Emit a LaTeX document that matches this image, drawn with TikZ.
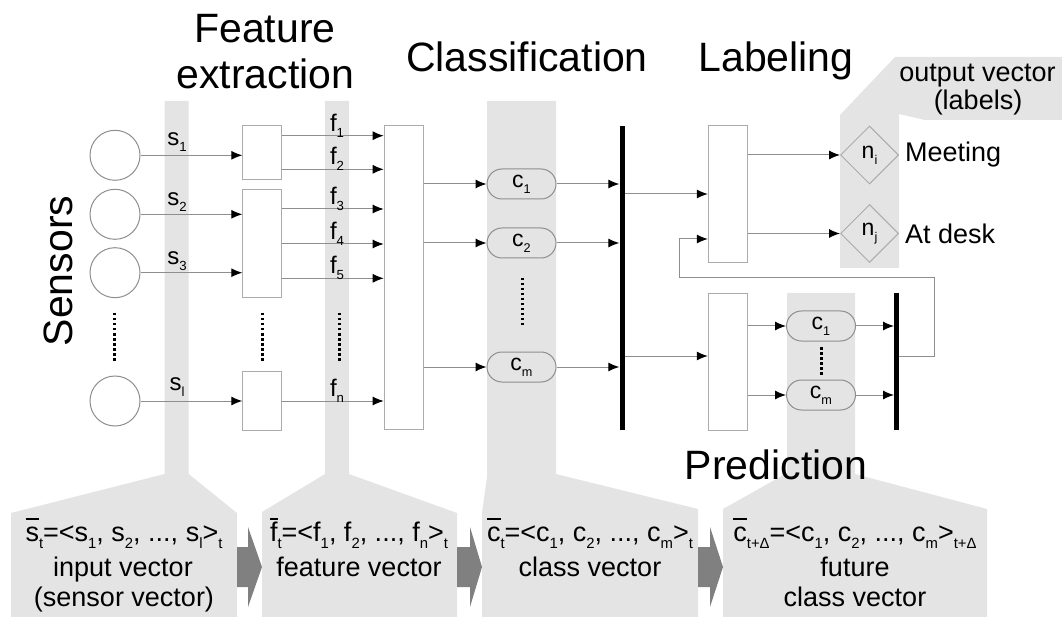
\documentclass[tikz,border=0pt]{standalone}
\usepackage{fontspec}
\setmainfont{Liberation Sans}
\usetikzlibrary{arrows.meta,shapes.geometric,shapes.misc}

\definecolor{band}{HTML}{E4E4E4}
\definecolor{wire}{HTML}{8E8E8E}
\definecolor{frame}{HTML}{ABABAB}
\definecolor{bigarrow}{HTML}{808080}

% small lowered index, as in s_1
\newcommand\subix[1]{\raisebox{-0.25em}{\scalebox{0.55}{#1}}}
% letter with a bar on top, as in a vector name
\newcommand\barred[1]{\leavevmode\setbox0\hbox{#1}\rlap{\raisebox{0.8em}{\rule{\wd0}{0.06em}}}\box0}

\begin{document}
\begin{tikzpicture}[x=1pt,y=-1pt,
  sensor/.style={circle, draw=wire, line width=1pt, minimum size=50pt, inner sep=0pt, fill=white},
  procbox/.style={rectangle, draw=frame, line width=1pt, fill=white, inner sep=0pt},
  pill/.style={rounded rectangle, draw=wire, fill=band, line width=1pt, minimum width=69pt,
               minimum height=30pt, inner sep=0pt, font=\fontsize{23}{23}\selectfont},
  dia/.style={diamond, draw=frame, fill=band, line width=1pt, minimum width=58pt,
              minimum height=58pt, inner sep=0pt, font=\fontsize{23}{23}\selectfont},
  bar/.style={rectangle, fill=black, minimum width=5pt, inner sep=0pt},
  arr/.style={draw=wire, line width=1pt, -{Latex[length=11pt,width=9pt,color=black]}},
  lbl/.style={font=\fontsize{24}{24}\selectfont, inner sep=0pt, anchor=base},
  title/.style={font=\fontsize{41}{41}\selectfont, inner sep=0pt, anchor=base},
  txt/.style={font=\fontsize{27}{27}\selectfont, inner sep=0pt, anchor=base},
  dotcol/.style={line width=3pt, dash pattern=on 2.5pt off 2.5pt},
  fat/.style={fill=bigarrow}]

\useasboundingbox (0,0) rectangle (1062,617);

% ---- grey vector bands with their caption boxes
\fill[band] (164.5,101) -- (188.7,101) -- (188.7,474) -- (237,513) -- (237,617)
  -- (11,617) -- (11,513) -- (164.5,474) -- cycle;
\fill[band] (325,101) -- (349,101) -- (349,474) -- (457,513) -- (457,617)
  -- (262,617) -- (262,512) -- (325,474) -- cycle;
\fill[band] (487,101) -- (556,101) -- (556,474) -- (698,509) -- (698,617)
  -- (482,617) -- (482,513) -- (487,477) -- cycle;
\fill[band] (787,293) -- (855,293) -- (855,474) -- (987,509) -- (987,617)
  -- (723,617) -- (723,509) -- (787,473) -- cycle;
\fill[band] (840,268) -- (840,115) -- (895,57) -- (1062,57) -- (1062,120)
  -- (925,120) -- (899,114) -- (899,268) -- cycle;

% ---- block arrows between the caption boxes
\fill[fat] (237,547) -- (248,547) -- (248,527) -- (262,567) -- (248,607) -- (248,587) -- (237,587) -- cycle;
\fill[fat] (457,547) -- (470,547) -- (470,527) -- (482,567) -- (470,607) -- (470,587) -- (457,587) -- cycle;
\fill[fat] (698,547) -- (710,547) -- (710,527) -- (723,567) -- (710,607) -- (710,587) -- (698,587) -- cycle;

% ---- sensors
\node[sensor] (s1) at (115,155.3) {};
\node[sensor] (s2) at (115,214.3) {};
\node[sensor] (s3) at (115,272.7) {};
\node[sensor] (sl) at (115,401) {};

% ---- feature extraction boxes
\node[procbox, minimum width=39pt, minimum height=54pt]  (fe1) at (262.3,152.9) {};
\node[procbox, minimum width=39pt, minimum height=108pt] (fe2) at (262.3,243.3) {};
\node[procbox, minimum width=39pt, minimum height=59pt]  (fe3) at (262.3,401.2) {};

% ---- classification box, classes and collecting bar
\node[procbox, minimum width=39pt, minimum height=304pt] (cl) at (403.7,277.9) {};
\node[pill] (c1) at (521.5,184) {c\subix{1}};
\node[pill] (c2) at (521.5,243) {c\subix{2}};
\node[pill] (cm) at (521.5,367) {c\subix{m}};
\node[bar, minimum height=304pt] (bar1) at (622,278) {};

% ---- labeling
\node[procbox, minimum width=39pt, minimum height=136.6pt] (lab) at (727.8,194) {};
\node[dia] (ni) at (869.5,155) {n\subix{i}};
\node[dia] (nj) at (869.5,233.5) {n\subix{j}};

% ---- prediction
\node[procbox, minimum width=39pt, minimum height=136.7pt] (pre) at (727.8,361.7) {};
\node[pill] (p1) at (821,326) {c\subix{1}};
\node[pill] (pm) at (821,395) {c\subix{m}};
\node[bar, minimum height=137pt] (bar2) at (896.7,361.3) {};

% ---- levels of the connectors
\coordinate (yf1) at (0,135.7);
\coordinate (yf2) at (0,169.3);
\coordinate (yf3) at (0,209);
\coordinate (yf4) at (0,244);
\coordinate (yf5) at (0,278.3);
\coordinate (yfn) at (0,401);
\coordinate (ylb) at (0,194);
\coordinate (ypr) at (0,356);
\coordinate (yfb) at (0,239);
\coordinate (fbA) at (934,356);
\coordinate (fbB) at (679,278);

% sensors to feature extraction
\draw[arr] (s1.east) -- (s1.east -| fe1.west);
\draw[arr] (s2.east) -- (s2.east -| fe2.west);
\draw[arr] (s3.east) -- (s3.east -| fe2.west);
\draw[arr] (sl.east) -- (sl.east -| fe3.west);

% features to classification
\draw[arr] (fe1.east |- yf1) -- (cl.west |- yf1);
\draw[arr] (fe1.east |- yf2) -- (cl.west |- yf2);
\draw[arr] (fe2.east |- yf3) -- (cl.west |- yf3);
\draw[arr] (fe2.east |- yf4) -- (cl.west |- yf4);
\draw[arr] (fe2.east |- yf5) -- (cl.west |- yf5);
\draw[arr] (fe3.east |- yfn) -- (cl.west |- yfn);

% classification to classes to bar
\draw[arr] (cl.east |- c1) -- (c1.west);
\draw[arr] (cl.east |- c2) -- (c2.west);
\draw[arr] (cl.east |- cm) -- (cm.west);
\draw[arr] (c1.east) -- (c1 -| bar1.west);
\draw[arr] (c2.east) -- (c2 -| bar1.west);
\draw[arr] (cm.east) -- (cm -| bar1.west);

% bar to labeling and prediction
\draw[arr] (bar1.east |- ylb) -- (lab.west |- ylb);
\draw[arr] (bar1.east |- ypr) -- (pre.west |- ypr);

% labeling to output labels
\draw[arr] (lab.east |- ni) -- (ni.west);
\draw[arr] (lab.east |- nj) -- (nj.west);

% prediction to future classes to bar
\draw[arr] (pre.east |- p1) -- (p1.west);
\draw[arr] (pre.east |- pm) -- (pm.west);
\draw[arr] (p1.east) -- (p1 -| bar2.west);
\draw[arr] (pm.east) -- (pm -| bar2.west);

% feedback of the prediction into labeling
\draw[arr] (bar2.east |- fbA) -- (fbA) |- (fbB) |- (lab.west |- yfb);

% ---- dotted ellipses of the columns
\draw[dotcol] (114,313) -- (114,362);
\draw[dotcol] (262,313) -- (262,362);
\draw[dotcol] (339,313) -- (339,362);
\draw[dotcol] (522,278) -- (522,327);
\draw[dotcol] (821,347) -- (821,375);

% ---- signal labels
\node[lbl] (ls1) at (177,146) {s\subix{1}};
\node[lbl] (ls2) at (177,206) {s\subix{2}};
\node[lbl] (ls3) at (177,264.3) {s\subix{3}};
\node[lbl] (lsl) at (177,390) {s\subix{l}};
\node[lbl] (lf1) at (337,131.2) {f\subix{1}};
\node[lbl] (lf2) at (337,165) {f\subix{2}};
\node[lbl] (lf3) at (337,204.5) {f\subix{3}};
\node[lbl] (lf4) at (337,239.5) {f\subix{4}};
\node[lbl] (lf5) at (337,273.8) {f\subix{5}};
\node[lbl] (lfn) at (337,396.5) {f\subix{n}};

% ---- stage titles
\node[title] (tFe) at (265,42.7) {Feature};
\node[title] (tEx) at (265.5,88.3) {extraction};
\node[title] (tCl) at (527,71.7) {Classification};
\node[title] (tLa) at (776,72) {Labeling};
\node[title] (tPr) at (776,479) {Prediction};
\node[title, rotate=90] (tSe) at (72,271) {Sensors};

% ---- output labels
\node[txt] (tOv) at (977.5,81.7) {output vector};
\node[txt] (tOl) at (978,110) {(labels)};
\node[txt, anchor=base west] (tMe) at (905,161.7) {Meeting};
\node[txt, anchor=base west] (tAd) at (905,243.3) {At desk};

% ---- vector captions
\node[txt] (v1a) at (124,541.7) {\barred{s}\subix{t}=<s\subix{1}, s\subix{2}, ..., s\subix{l}>\subix{t}};
\node[txt] (v1b) at (123,576.7) {input vector};
\node[txt] (v1c) at (124,606.7) {(sensor vector)};
\node[txt] (v2a) at (359,541.7) {\barred{f}\subix{t}=<f\subix{1}, f\subix{2}, ..., f\subix{n}>\subix{t}};
\node[txt] (v2b) at (359,576.7) {feature vector};
\node[txt] (v3a) at (590,541.7) {\barred{c}\subix{t}=<c\subix{1}, c\subix{2}, ..., c\subix{m}>\subix{t}};
\node[txt] (v3b) at (590,576.7) {class vector};
\node[txt] (v4a) at (855,541.7) {\barred{c}\subix{t+Δ}=<c\subix{1}, c\subix{2}, ..., c\subix{m}>\subix{t+Δ}};
\node[txt] (v4b) at (855,576.7) {future};
\node[txt] (v4c) at (855,606.7) {class vector};
\end{tikzpicture}
\end{document}
